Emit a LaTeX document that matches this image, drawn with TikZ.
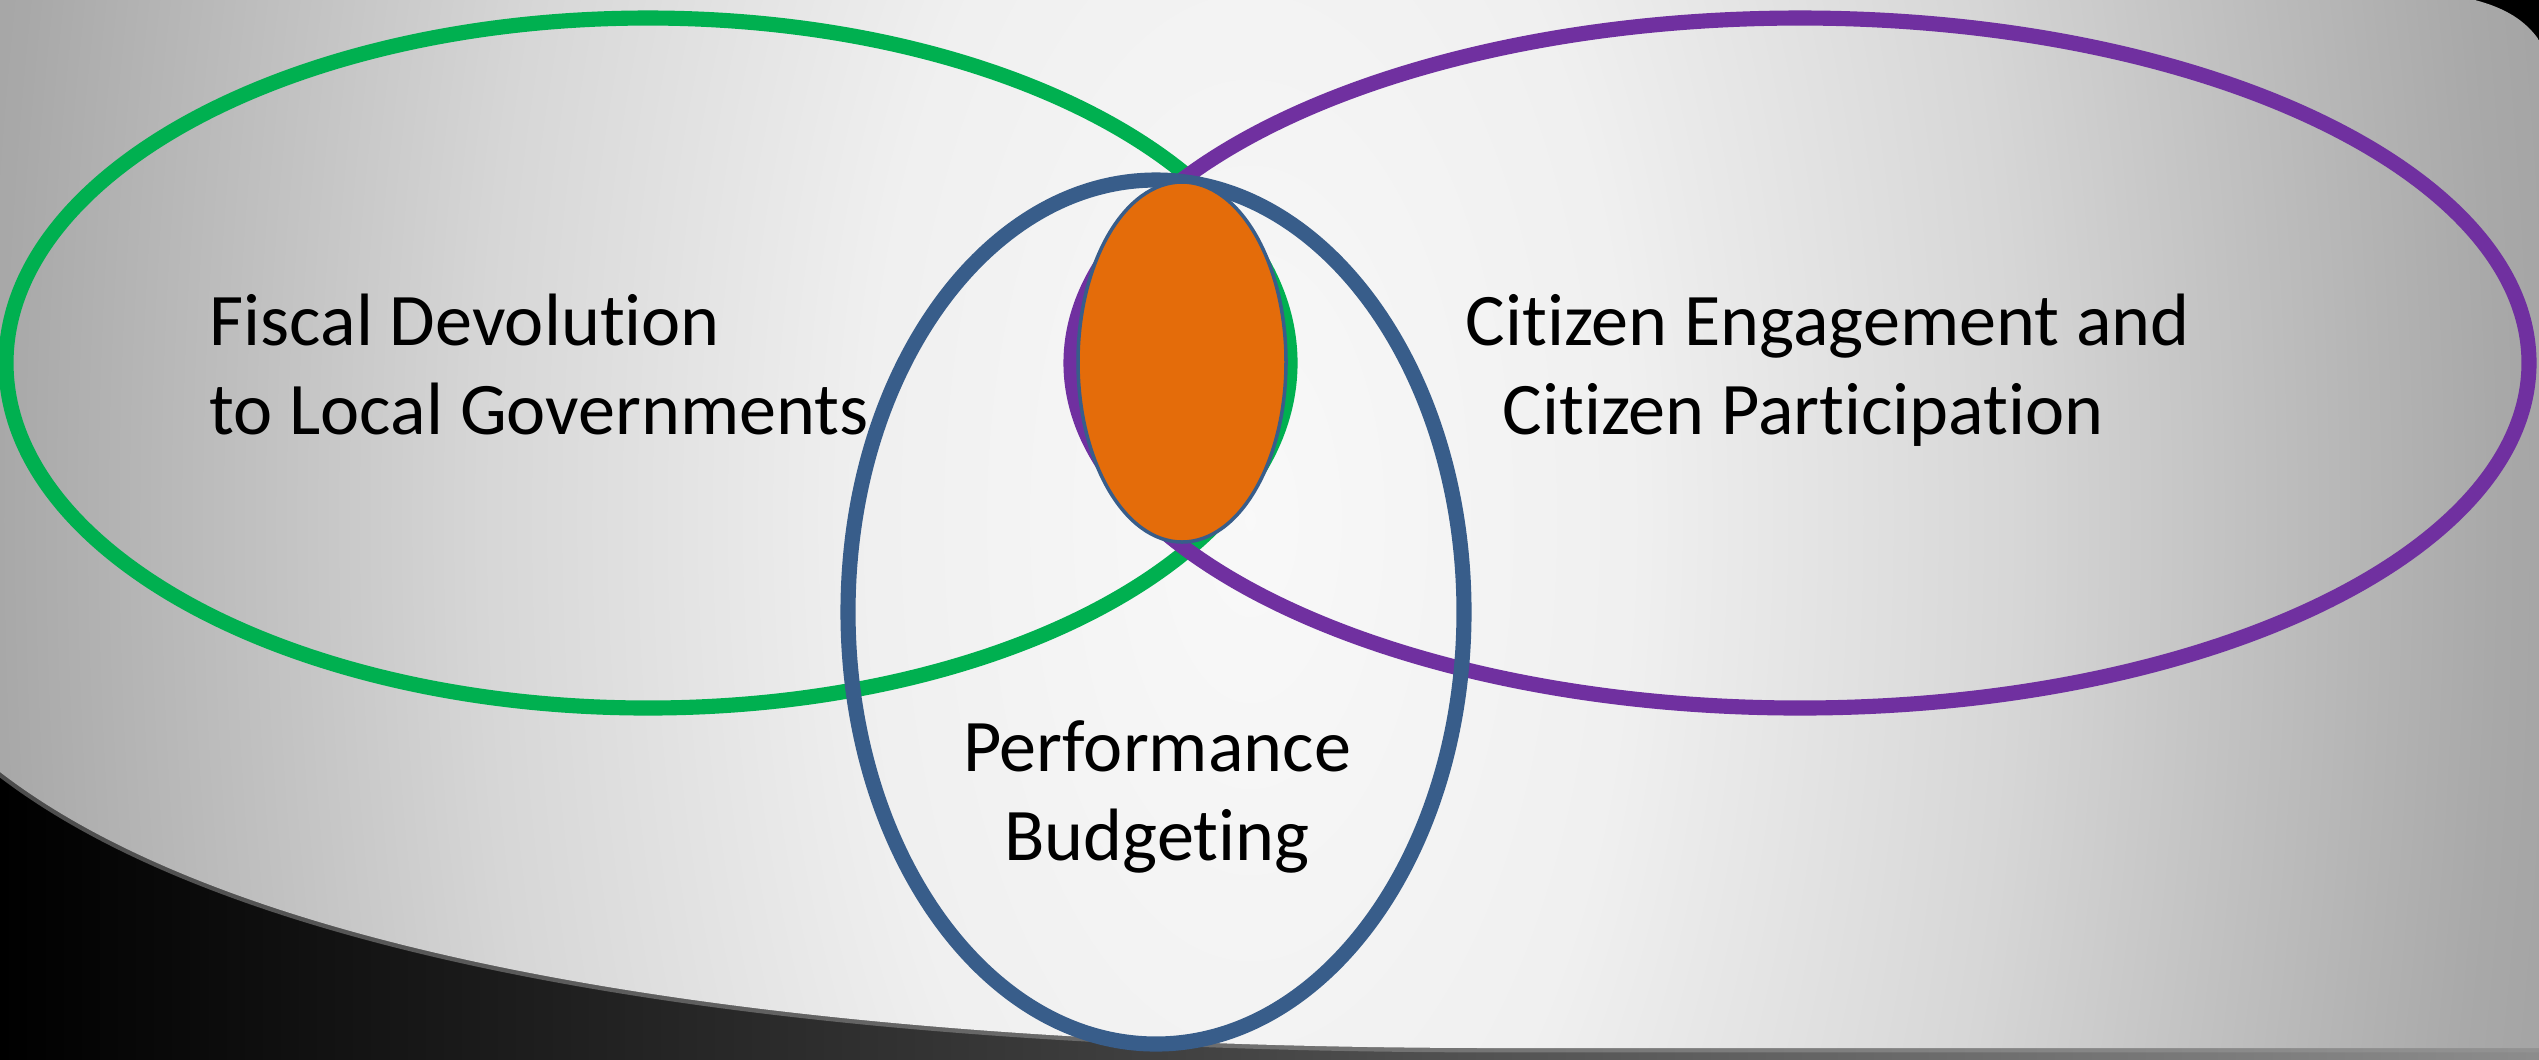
\documentclass[tikz,border=0pt]{standalone}
\usepackage{fontspec}
\setmainfont{Carlito}[Ligatures=NoCommon]
\usepackage{tikz}
\definecolor{fiscalgreen}{HTML}{00B050}
\definecolor{citizenpurple}{HTML}{7030A0}
\definecolor{budgetblue}{HTML}{385D8A}
\definecolor{coreorange}{HTML}{E46C0A}
\definecolor{glowA}{gray}{0.975}
\definecolor{glowB}{gray}{0.94}
\definecolor{glowC}{gray}{0.84}
\definecolor{glowD}{gray}{0.66}
\definecolor{glowE}{gray}{0.58}
\pgfdeclareradialshading{slideglow}{\pgfpoint{0bp}{0bp}}{color(0bp)=(glowA); color(6bp)=(glowB); color(12bp)=(glowC); color(19.5bp)=(glowD); color(25bp)=(glowE); color(50bp)=(glowE)}

\begin{document}
\begin{tikzpicture}[x=0.01cm, y=-0.01cm,
      ring/.style={line width=4.3pt},
      venntext/.style={font=\fontsize{21.1}{25.3}\selectfont, inner sep=0pt}]
    \useasboundingbox (0,0) rectangle (2539,1059);
    \shade[left color=black, right color=black!45] (0,0) rectangle (2539,1059);
    \fill[black] (2380,0) -- (2539,0) -- (2539,120) -- cycle;
    \draw[black!40, line width=2.5pt, opacity=0.5] (2539,1048) -- (1500,1048) .. controls (800,1048) and (250,965) .. (0,772);
    \begin{scope}
      \clip (0,0) -- (2475,0) .. controls (2505,8) and (2525,20) .. (2539,40) -- (2539,1048) -- (1500,1048) .. controls (800,1048) and (250,965) .. (0,772) -- cycle;
      \shade[shading=slideglow] (-350,-2680) rectangle (2850,3720);
    \end{scope}
    \draw[ring, fiscalgreen] (648,363) ellipse [x radius=642, y radius=345];
    \draw[ring, citizenpurple] (1800,363) ellipse [x radius=729, y radius=345];
    \draw[ring, budgetblue] (1156,612) ellipse [x radius=308, y radius=432];
    \draw[budgetblue, line width=1pt, fill=coreorange] (1182,362) ellipse [x radius=104, y radius=180];
    \node[venntext, align=left, anchor=base west] (fiscal) at (209,434) {Fiscal Devolution\\to Local Governments};
    \node[venntext, align=left, anchor=base west] (citizen) at (1465,434) {Citizen Engagement and\\\hspace*{0.37cm}Citizen Participation};
    \node[venntext, align=center, anchor=base] (budget) at (1157,860) {Performance\\Budgeting};
  \end{tikzpicture}
\end{document}
